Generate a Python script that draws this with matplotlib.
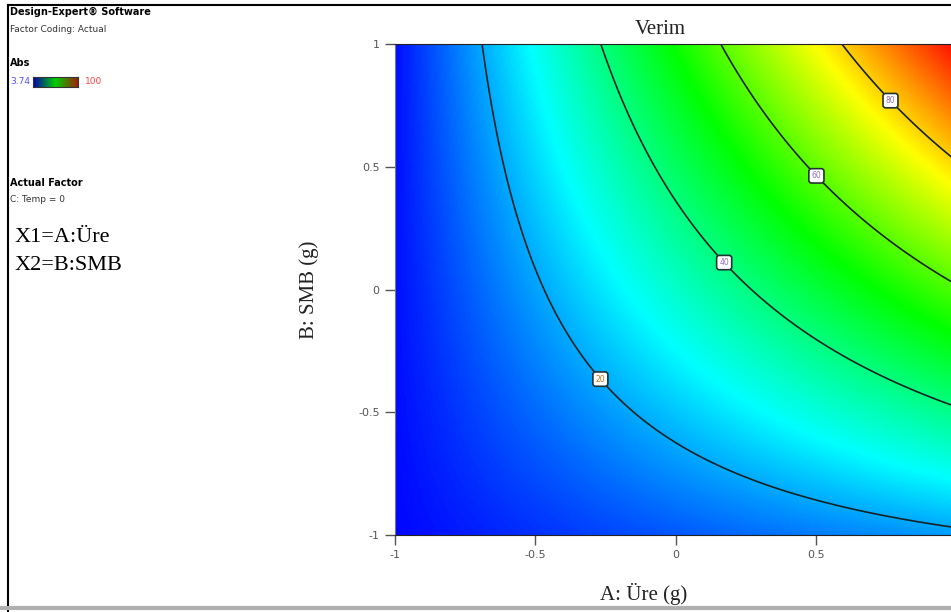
import numpy as np
import matplotlib
matplotlib.use("Agg")
import matplotlib.pyplot as plt
from matplotlib.colors import LinearSegmentedColormap, Normalize
from matplotlib.lines import Line2D

# values: points on each contour (A, B, Verim)
pts_A = [-0.689, -0.507, -0.28, 0.093, 0.986,
         -0.26, 0.186, 0.564, 0.986,
         0.154, 0.518, 0.85, 0.986,
         0.596, 0.779, 0.986,
         -1.0, 1.0]
pts_B = [1.0, 0.0, -0.377, -0.709, -0.967,
         1.0, 0.123, -0.25, -0.467,
         1.0, 0.48, 0.12, 0.03,
         1.0, 0.783, 0.54,
         -1.0, 1.0]
pts_val = [20, 20, 20, 20, 20,
           40, 40, 40, 40,
           60, 60, 60, 60,
           80, 80, 80,
           3.74, 100]

levels = [20, 40, 60, 80]
label_pos = [(-0.28, -0.377), (0.186, 0.123), (0.518, 0.48), (0.779, 0.783)]
x_ticks = [-1, -0.5, 0, 0.5]
x_tick_labels = ["-1", "-0.5", "0", "0.5"]
y_ticks = [-1, -0.5, 0, 0.5, 1]
y_tick_labels = ["-1", "-0.5", "0", "0.5", "1"]
vmin, vmax = 3.74, 100

# quadratic response surface (as Design-Expert does) through the read points
pa = np.array(pts_A); pb = np.array(pts_B)
X = np.column_stack([np.ones_like(pa), pa, pb, pa * pb, pa ** 2, pb ** 2])
coef = np.linalg.lstsq(X, np.array(pts_val, float), rcond=None)[0]

g = np.linspace(-1, 1, 301)
AA, BB = np.meshgrid(g, g)
Z = (coef[0] + coef[1] * AA + coef[2] * BB + coef[3] * AA * BB
     + coef[4] * AA ** 2 + coef[5] * BB ** 2)

cmap = LinearSegmentedColormap.from_list(
    "de", ["#0000ff", "#00ffff", "#00ff00", "#ffff00", "#ff0000"])

W, H = 951, 612
fig = plt.figure(figsize=(W / 100, H / 100), dpi=100)

# plot area (right side runs past the picture edge)
ax = fig.add_axes([395 / W, 1 - 535 / H, 561 / W, 491 / H])
ax.imshow(Z, extent=(-1, 1, -1, 1), origin="lower", cmap=cmap,
          norm=Normalize(vmin, vmax), aspect="auto", interpolation="bilinear")
cs = ax.contour(AA, BB, Z, levels=levels, colors="#142424", linewidths=1.2)
lbls = ax.clabel(cs, manual=label_pos, inline=False, fmt="%d", fontsize=5.5)
for t in lbls:
    t.set_rotation(0)
    t.set_color("#9070c0" if t.get_text() != "20" else "#c07020")
    t.set_bbox(dict(boxstyle="round,pad=0.35", fc="white", ec="#223333", lw=1.2))

ax.set_xlim(-1, 1)
ax.set_ylim(-1, 1)
ax.set_xticks(x_ticks)
ax.set_xticklabels(x_tick_labels)
ax.set_yticks(y_ticks)
ax.set_yticklabels(y_tick_labels)
ax.tick_params(direction="out", length=7, width=1, colors="#555555",
               labelsize=8, pad=4)
ax.spines["left"].set_color("#777777")
for s in ["top", "bottom"]:
    ax.spines[s].set_color("#222222")
ax.spines["right"].set_visible(False)

serif = ["Liberation Serif", "DejaVu Serif"]
ax.set_xlabel("A: Üre (g)", family=serif, fontsize=15, color="#222222")
ax.xaxis.set_label_coords(0.444, -0.098)
ax.set_ylabel("B: SMB (g)", family=serif, fontsize=15, color="#222222")
ax.yaxis.set_label_coords(-0.135, 0.5)
ax.text(0.472, 1.0 + 14 / 491, "Verim", transform=ax.transAxes, ha="center",
        va="center", family=serif, fontsize=15, color="#222222")

# left side notes
def px(x, y):
    return x / W, 1 - y / H

fig.text(*px(10, 12), "Design-Expert® Software", fontsize=7, weight="bold", va="center")
fig.text(*px(10, 30), "Factor Coding: Actual", fontsize=6.5, va="center", color="#333333")
fig.text(*px(10, 63), "Abs", fontsize=7, weight="bold", va="center")
fig.text(*px(10, 82), "3.74", fontsize=6.5, va="center", color="#5050ff")
fig.text(*px(85, 82), "100", fontsize=6.5, va="center", color="#ff4040")
cax = fig.add_axes([33 / W, 1 - 87 / H, 45 / W, 10 / H])
cax.imshow(np.linspace(0, 1, 100)[None, :], aspect="auto",
           cmap=LinearSegmentedColormap.from_list("leg", ["#0000b0", "#00d000", "#a02000"]))
cax.set_xticks([]); cax.set_yticks([])
for s in cax.spines.values():
    s.set_color("#333333")
fig.text(*px(10, 183), "Actual Factor", fontsize=7, weight="bold", va="center")
fig.text(*px(10, 200), "C: Temp = 0", fontsize=6.5, va="center", color="#333333")
fig.text(*px(15, 238), "X1=A:Üre", family=serif, fontsize=16, va="center")
fig.text(*px(15, 265), "X2=B:SMB", family=serif, fontsize=16, va="center")

# screenshot frame
fig.add_artist(Line2D([8 / W, 8 / W], [0, 1 - 5 / H], color="black", lw=1.5))
fig.add_artist(Line2D([8 / W, 1], [1 - 5 / H, 1 - 5 / H], color="black", lw=1.5))
fig.add_artist(Line2D([0, 1], [1 - 608 / H, 1 - 608 / H], color="#b0b0b0", lw=3))

fig.savefig("out.png", dpi=100)
